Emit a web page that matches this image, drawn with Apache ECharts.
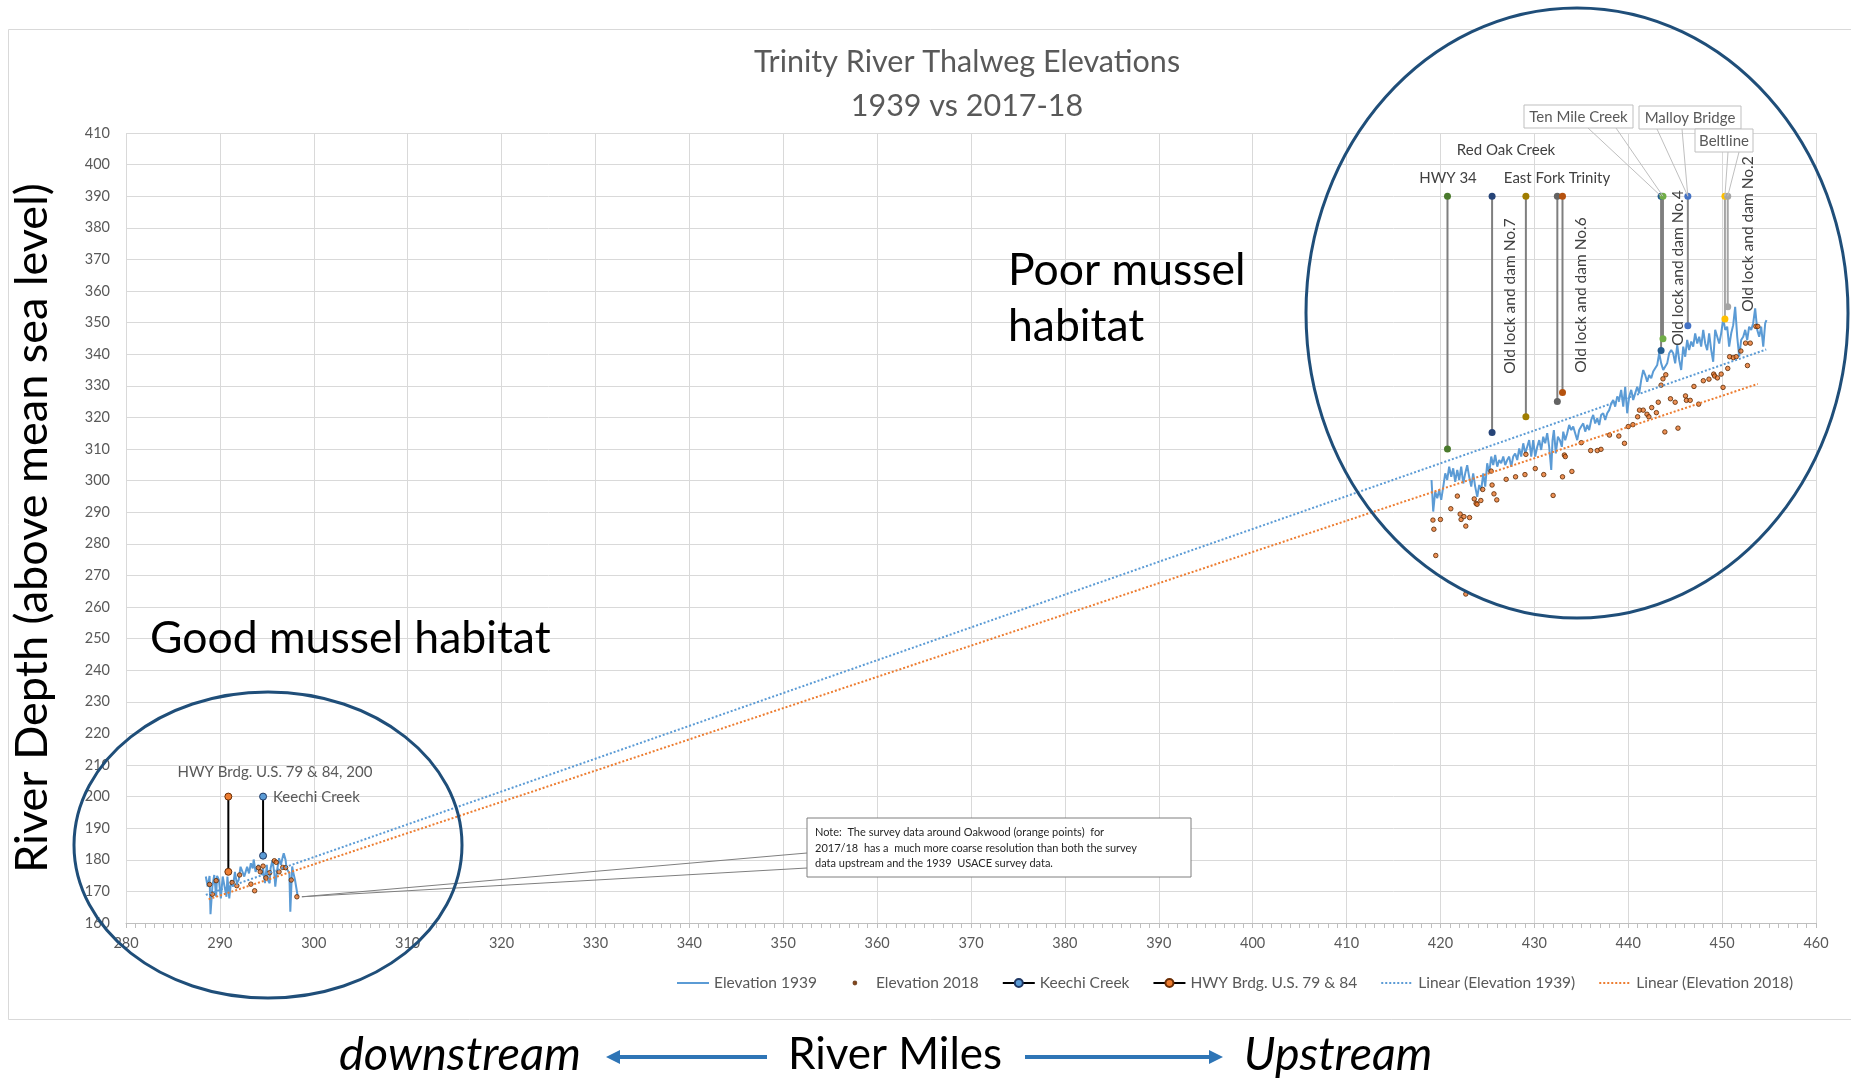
<!DOCTYPE html>
<html>
<head>
<meta charset="utf-8">
<title>Trinity River Thalweg Elevations</title>
<script src="https://cdn.jsdelivr.net/npm/echarts@6/dist/echarts.min.js"></script>
<style>
    html, body { margin: 0; padding: 0; background: #fff; }
    #main { width: 1851px; height: 1083px; }
</style>
</head>
<body>
<div id="main"></div>
<script>
// [river mile, elevation]
const elev1939Down = [
    [288.5,174.7],[288.7,171.5],[288.9,174.9],[289.0,162.8],[289.2,171.5],[289.4,175.2],[289.6,168.3],[289.7,174.9],
    [289.9,173.6],[290.1,167.8],[290.3,174.7],[290.5,171.5],[290.7,168.3],[290.8,174.7],[291.0,167.8],[291.2,173.6],
    [291.4,171.5],[291.6,176.2],[291.8,172.6],[292.0,173.6],[292.2,177.8],[292.4,177.3],[292.6,174.7],[292.9,177.8],
    [293.1,175.7],[293.3,178.9],[293.5,177.3],[293.6,180.1],[293.8,176.2],[294.1,178.4],[294.3,178.9],[294.5,175.2],
    [294.6,177.3],[294.8,172.6],[295.0,178.4],[295.1,173.6],[295.3,172.6],[295.4,177.3],[295.6,179.9],[295.8,175.7],
    [295.9,171.5],[296.1,176.8],[296.3,180.5],[296.5,178.4],[296.7,181.0],[296.8,182.1],[297.0,179.9],[297.1,177.3],
    [297.3,177.9],[297.4,175.7],[297.5,163.6],[297.7,177.9],[297.8,176.2],[298.0,173.6],[298.3,168.3]
];
const elev1939Up = [
    [419.05,300.2],[419.23,290.2],[419.44,296.5],[419.66,294.4],[419.87,297.0],[420.08,293.9],[420.30,298.1],[420.51,302.3],
    [420.72,300.2],[420.93,304.4],[421.15,301.2],[421.36,303.9],[421.57,299.6],[421.79,303.4],[422.00,300.2],[422.21,304.4],
    [422.43,299.1],[422.64,302.3],[422.85,304.9],[423.06,301.2],[423.28,298.1],[423.49,302.3],[423.70,298.1],[423.92,294.9],
    [424.13,298.6],[424.34,297.0],[424.56,302.3],[424.77,298.1],[424.98,305.5],[425.19,302.3],[425.41,307.6],[425.62,304.9],
    [425.83,308.1],[426.05,304.4],[426.26,306.5],[426.47,305.5],[426.69,307.6],[426.90,304.9],[427.11,306.5],[427.32,307.6],
    [427.54,304.4],[427.75,307.6],[427.96,308.6],[428.18,306.5],[428.39,310.2],[428.60,307.6],[428.82,311.8],[429.03,308.6],
    [429.24,310.7],[429.45,312.8],[429.67,307.6],[429.88,312.8],[430.09,307.6],[430.31,310.7],[430.52,312.8],[430.73,309.7],
    [430.95,313.9],[431.16,311.8],[431.37,315.0],[431.58,310.7],[431.80,303.4],[431.94,312.8],[432.08,316.0],[432.29,308.6],
    [432.51,313.9],[432.72,312.8],[432.93,310.7],[433.08,315.5],[433.29,312.8],[433.50,315.0],[433.71,317.6],[433.93,316.0],
    [434.14,317.1],[434.35,315.0],[434.57,312.8],[434.78,316.0],[434.99,317.1],[435.21,318.1],[435.42,315.5],[435.63,317.6],
    [435.84,316.0],[436.06,319.2],[436.27,320.8],[436.48,318.1],[436.70,319.7],[436.91,317.6],[437.12,320.8],[437.34,321.3],
    [437.55,319.2],[437.76,321.3],[437.97,322.3],[438.19,324.4],[438.40,325.5],[438.61,323.4],[438.83,326.6],[439.04,325.5],
    [439.25,328.7],[439.47,323.4],[439.68,329.7],[439.89,321.3],[440.10,326.6],[440.32,328.7],[440.53,325.5],[440.74,327.6],
    [440.96,329.7],[441.17,327.6],[441.38,331.8],[441.60,335.0],[441.81,333.4],[442.02,331.3],[442.23,333.4],[442.45,332.4],
    [442.66,334.5],[442.87,334.5],[443.09,336.6],[443.30,340.3],[443.51,337.1],[443.73,335.0],[443.94,335.5],[444.15,337.1],
    [444.36,340.3],[444.58,341.3],[444.79,340.3],[445.00,337.1],[445.22,342.9],[445.43,338.2],[445.64,335.0],[445.86,342.4],
    [446.07,339.2],[446.28,344.5],[446.49,341.3],[446.71,344.0],[446.92,342.4],[447.13,346.6],[447.35,343.4],[447.56,345.5],
    [447.77,342.4],[447.99,347.7],[448.20,343.4],[448.41,341.3],[448.62,346.6],[448.84,341.3],[449.05,337.6],[449.26,347.7],
    [449.48,345.5],[449.69,343.4],[449.90,346.6],[450.12,351.3],[450.33,347.7],[450.54,348.7],[450.75,342.4],[450.97,346.6],
    [451.18,349.2],[451.39,355.0],[451.61,345.5],[451.82,339.2],[452.03,344.5],[452.25,345.5],[452.46,347.7],[452.67,344.5],
    [452.88,348.7],[453.10,347.7],[453.31,349.8],[453.52,354.5],[453.74,347.7],[453.95,345.5],[454.16,348.7],[454.38,342.4],
    [454.59,349.8],[454.73,350.8]
];
const elev2018 = [
    [288.9,172.2],[289.2,169.1],[289.6,173.4],[291.3,172.8],[291.8,171.8],[292.1,175.2],[293.3,172.3],[293.7,170.2],
    [294.1,177.5],[294.3,176.2],[294.6,178.0],[294.9,174.3],[295.3,175.9],[295.8,179.7],[296.0,179.2],[296.3,176.2],
    [296.7,177.6],[297.0,177.5],[297.6,173.6],[298.2,168.3],
    [419.2,287.5],[420.0,287.7],[419.3,284.6],[419.5,276.3],[421.1,291.1],[421.8,295.1],[422.1,289.4],[422.2,287.7],
    [422.5,288.6],[422.7,285.6],[423.1,288.3],[423.6,294.2],[423.8,292.8],[423.9,292.5],[424.3,293.7],[424.5,297.2],
    [425.5,298.6],[425.7,295.8],[426.0,293.9],[425.4,303.0],[427.0,300.4],[428.0,301.2],[429.0,301.9],[429.1,308.3],
    [430.1,303.8],[431.0,301.9],[432.0,295.3],[433.0,301.2],[433.2,308.1],[433.3,307.6],[434.0,302.9],[435.0,312.0],
    [436.0,309.5],[436.7,309.5],[437.1,309.9],[438.0,314.4],[439.0,314.1],[439.6,311.8],[440.0,317.1],[440.5,317.7],
    [441.0,320.2],[441.2,322.3],[441.6,322.3],[442.0,321.0],[442.2,320.2],[442.5,323.1],[443.0,321.5],[443.2,324.8],
    [443.5,330.2],[443.7,332.2],[444.0,333.5],[443.9,315.4],[444.5,325.9],[445.0,324.8],[445.3,316.6],[446.1,326.8],
    [446.2,325.4],[446.6,325.4],[447.0,329.8],[447.5,324.2],[448.0,331.6],[448.6,332.1],[449.1,333.7],[449.2,333.1],
    [449.5,332.5],[449.9,333.7],[450.1,329.5],[450.6,335.5],[450.8,339.2],[451.2,338.9],[451.5,339.2],[452.0,341.0],
    [452.5,343.5],[452.7,336.4],[453.0,343.5],[453.6,348.8],[453.8,348.8],[422.7,264.1]
];
const trend1939 = [[288.5, 168.9], [454.7, 341.5]];
const trend2018 = [[288.8, 167.5], [453.8, 330.6]];
const keechiCreek = [[294.6, 181.3], [294.6, 200]];
const hwyBridge = [[290.9, 176.2], [290.9, 200]];

// upstream landmarks (vertical drop lines)
const landmarkMiles = [420.75, 425.5, 429.1, 432.45, 433.0, 443.5, 443.7, 446.35, 450.3, 450.6];
const landmarkLow = [310, 315.2, 320.2, 325, 327.9, 341.2, 344.9, 349, 351.1, 355];
const landmarkHigh = [390, 390, 390, 390, 390, 390, 390, 390, 390, 390];
const landmarkColors = ['#4a7a2c', '#264478', '#a07d00', '#636363', '#b5520f', '#255e91', '#70ad47', '#4472c4', '#ffc000', '#a5a5a5'];
const landmarkLineColors = ['#7f7f7f', '#7f7f7f', '#7f7f7f', '#7f7f7f', '#7f7f7f', '#7f7f7f', '#7f7f7f', '#8c8c8c', '#a6a6a6', '#a6a6a6'];

const FONT = 'Lato, "Open Sans", sans-serif';

const chart = echarts.init(document.getElementById('main'));

const landmarkSeries = landmarkMiles.map((m, i) => ({
    name: 'landmark' + i,
    type: 'line',
    data: [[m, landmarkLow[i]], [m, landmarkHigh[i]]],
    symbol: 'circle',
    symbolSize: 7,
    showSymbol: true,
    lineStyle: {color: landmarkLineColors[i], width: 2},
    itemStyle: {color: landmarkColors[i]},
    z: 4
}));

// small dot inside a 28x10 box, so the legend keeps it tiny
const dotIcon = 'path://M0,0M28,10M12.6,5a1.4,1.4 0 1,0 2.8,0a1.4,1.4 0 1,0 -2.8,0Z';

chart.setOption({
    animation: false,
    backgroundColor: '#fff',
    grid: {left: 126, top: 133, width: 1690, height: 790},
    legend: {
        left: 671,
        top: 970,
        itemWidth: 32,
        itemHeight: 10,
        itemGap: 23,
        textStyle: {fontFamily: FONT, fontSize: 15.5, color: '#595959'},
        data: [
            {name: 'Elevation 1939', itemStyle: {opacity: 0}},
            {name: 'Elevation 2018', icon: dotIcon},
            'Keechi Creek',
            'HWY Brdg. U.S. 79 & 84',
            {name: 'Linear (Elevation 1939)', itemStyle: {opacity: 0}},
            {name: 'Linear (Elevation 2018)', itemStyle: {opacity: 0}}
        ]
    },
    xAxis: {
        type: 'value',
        min: 280, max: 460, interval: 10,
        axisLine: {lineStyle: {color: '#bfbfbf'}},
        axisTick: {show: true, length: 5, lineStyle: {color: '#bfbfbf'}},
        minorTick: {show: true, splitNumber: 10, length: 5, lineStyle: {color: '#bfbfbf'}},
        splitLine: {lineStyle: {color: '#d9d9d9'}},
        axisLabel: {fontFamily: FONT, fontSize: 14.5, color: '#595959', margin: 13}
    },
    yAxis: {
        type: 'value',
        min: 160, max: 410, interval: 10,
        axisLine: {show: false},
        axisTick: {show: false},
        splitLine: {lineStyle: {color: '#d9d9d9'}},
        axisLabel: {fontFamily: FONT, fontSize: 14.5, color: '#595959', margin: 16}
    },
    series: [
        {
            name: 'Elevation 1939', type: 'line', data: elev1939Down, symbol: 'none',
            lineStyle: {color: '#5b9bd5', width: 2}, itemStyle: {color: '#5b9bd5'}, z: 3
        },
        {
            name: 'Elevation 1939', type: 'line', data: elev1939Up, symbol: 'none',
            lineStyle: {color: '#5b9bd5', width: 2}, itemStyle: {color: '#5b9bd5'}, z: 3
        },
        {
            name: 'Elevation 2018', type: 'scatter', data: elev2018, symbolSize: 4.5,
            itemStyle: {color: '#e8762c', borderColor: '#5a2700', borderWidth: 1}, z: 5
        },
        {
            name: 'Keechi Creek', type: 'line', data: keechiCreek, symbol: 'circle', symbolSize: 7,
            lineStyle: {color: '#000', width: 2},
            itemStyle: {color: '#5b9bd5', borderColor: '#203864', borderWidth: 1}, z: 6
        },
        {
            name: 'HWY Brdg. U.S. 79 & 84', type: 'line', data: hwyBridge, symbol: 'circle', symbolSize: 7,
            lineStyle: {color: '#000', width: 2},
            itemStyle: {color: '#ed7d31', borderColor: '#6b2e05', borderWidth: 1}, z: 6
        },
        ...landmarkSeries,
        {
            name: 'Linear (Elevation 1939)', type: 'line', data: trend1939, symbol: 'none',
            lineStyle: {color: '#5b9bd5', width: 2, type: 'dotted'}, itemStyle: {color: '#5b9bd5'}, z: 7
        },
        {
            name: 'Linear (Elevation 2018)', type: 'line', data: trend2018, symbol: 'none',
            lineStyle: {color: '#ed7d31', width: 2, type: 'dotted'}, itemStyle: {color: '#ed7d31'}, z: 7
        }
    ]
});

// annotations: texts, callouts, ellipses and the bottom caption
const px = p => chart.convertToPixel({gridIndex: 0}, p);

function text(x, y, str, opt) {
    return Object.assign({
        type: 'text', x: x, y: y, z: 100,
        style: Object.assign({
            text: str, fill: '#404040', fontFamily: FONT, fontSize: 15,
            align: 'center', verticalAlign: 'middle'
        }, (opt && opt.style) || {})
    }, opt && opt.rotation ? {rotation: opt.rotation} : {});
}
function line(x1, y1, x2, y2, color, w) {
    return {type: 'line', z: 99, shape: {x1, y1, x2, y2}, style: {stroke: color, lineWidth: w || 1}};
}
function callout(x, y, w, h, str) {
    return [
        {type: 'rect', z: 100, shape: {x, y, width: w, height: h}, style: {fill: '#fff', stroke: '#bfbfbf', lineWidth: 1}},
        text(x + w / 2, y + h / 2 + 1, str, {style: {fill: '#595959'}})
    ];
}

const topTen = px([landmarkMiles[5], landmarkHigh[5]]);
const topTen2 = px([landmarkMiles[6], landmarkHigh[6]]);
const topMalloy = px([landmarkMiles[7], landmarkHigh[7]]);
const topBelt = px([landmarkMiles[8], landmarkHigh[8]]);
const topBelt2 = px([landmarkMiles[9], landmarkHigh[9]]);
const noteAnchor = px(elev2018[19]);

const rot = Math.PI / 2;
const big = {fontSize: 44.5, fill: '#000', align: 'left'};
const graphics = [
    {type: 'rect', z: 1, shape: {x: 8.5, y: 29.5, width: 1900, height: 990}, style: {fill: 'none', stroke: '#d9d9d9', lineWidth: 1}},

    text(967, 62, 'Trinity River Thalweg Elevations', {style: {fontSize: 30.5, fill: '#595959'}}),
    text(967, 106, '1939 vs 2017-18', {style: {fontSize: 30.5, fill: '#595959'}}),

    text(32, 528, 'River Depth (above mean sea level)', {rotation: rot, style: {fontSize: 45, fill: '#000'}}),

    text(150, 639, 'Good mussel habitat', {style: big}),
    text(1008, 271, 'Poor mussel', {style: big}),
    text(1008, 327, 'habitat', {style: big}),

    // downstream labels
    text(275, 772, 'HWY Brdg. U.S. 79 & 84, 200', {style: {fill: '#595959'}}),
    text(273, 797, 'Keechi Creek', {style: {fill: '#595959', align: 'left'}}),

    // upstream labels
    text(1448, 178, 'HWY 34'),
    text(1506, 150, 'Red Oak Creek'),
    text(1557, 178, 'East Fork Trinity'),
    text(1510, 296, 'Old lock and dam No.7', {rotation: rot, style: {fontSize: 15.5}}),
    text(1581, 295, 'Old lock and dam No.6', {rotation: rot, style: {fontSize: 15.5}}),
    text(1678, 268, 'Old lock and dam No.4', {rotation: rot, style: {fontSize: 15.5}}),
    text(1748, 234, 'Old lock and dam No.2', {rotation: rot, style: {fontSize: 15.5}}),

    line(1588, 128, topTen[0], topTen[1], '#bfbfbf'),
    line(1616, 128, topTen2[0], topTen2[1], '#bfbfbf'),
    line(1657, 129, topMalloy[0], topMalloy[1], '#bfbfbf'),
    line(1682, 129, topMalloy[0], topMalloy[1], '#bfbfbf'),
    line(1728, 152, topBelt[0], topBelt[1], '#bfbfbf'),
    line(1739, 152, topBelt2[0], topBelt2[1], '#bfbfbf'),
    ...callout(1524, 105, 109, 23, 'Ten Mile Creek'),
    ...callout(1639, 106, 102, 23, 'Malloy Bridge'),
    ...callout(1695, 129, 58, 23, 'Beltline'),

    // note box
    line(807, 853, noteAnchor[0] + 5, noteAnchor[1], '#7f7f7f'),
    line(807, 868, noteAnchor[0] + 5, noteAnchor[1], '#7f7f7f'),
    {type: 'rect', z: 100, shape: {x: 807, y: 818, width: 384, height: 59}, style: {fill: '#fff', stroke: '#7f7f7f', lineWidth: 1}},
    text(815, 832, 'Note:  The survey data around Oakwood (orange points)  for', {style: {fontSize: 11, fill: '#262626', align: 'left'}}),
    text(815, 848, '2017/18  has a  much more coarse resolution than both the survey', {style: {fontSize: 11, fill: '#262626', align: 'left'}}),
    text(815, 863, 'data upstream and the 1939  USACE survey data.', {style: {fontSize: 11, fill: '#262626', align: 'left'}}),

    // habitat ellipses
    {type: 'ellipse', z: 101, shape: {cx: 268, cy: 845, rx: 194, ry: 153}, style: {fill: 'none', stroke: '#1f4e79', lineWidth: 3}},
    {type: 'ellipse', z: 101, shape: {cx: 1577, cy: 313, rx: 271, ry: 305}, style: {fill: 'none', stroke: '#1f4e79', lineWidth: 3}},

    // bottom caption
    text(460, 1055, 'downstream', {style: {fontSize: 47, fill: '#000', fontStyle: 'italic'}}),
    text(895, 1055, 'River Miles', {style: {fontSize: 44, fill: '#000'}}),
    text(1338, 1055, 'Upstream', {style: {fontSize: 46.5, fill: '#000', fontStyle: 'italic'}}),
    line(767, 1057, 618, 1057, '#2e75b6', 4),
    {type: 'polygon', z: 100, shape: {points: [[606, 1057], [620, 1050], [620, 1064]]}, style: {fill: '#2e75b6'}},
    line(1025, 1057, 1211, 1057, '#2e75b6', 4),
    {type: 'polygon', z: 100, shape: {points: [[1223, 1057], [1209, 1050], [1209, 1064]]}, style: {fill: '#2e75b6'}}
];

chart.setOption({graphic: graphics});
</script>
</body>
</html>
